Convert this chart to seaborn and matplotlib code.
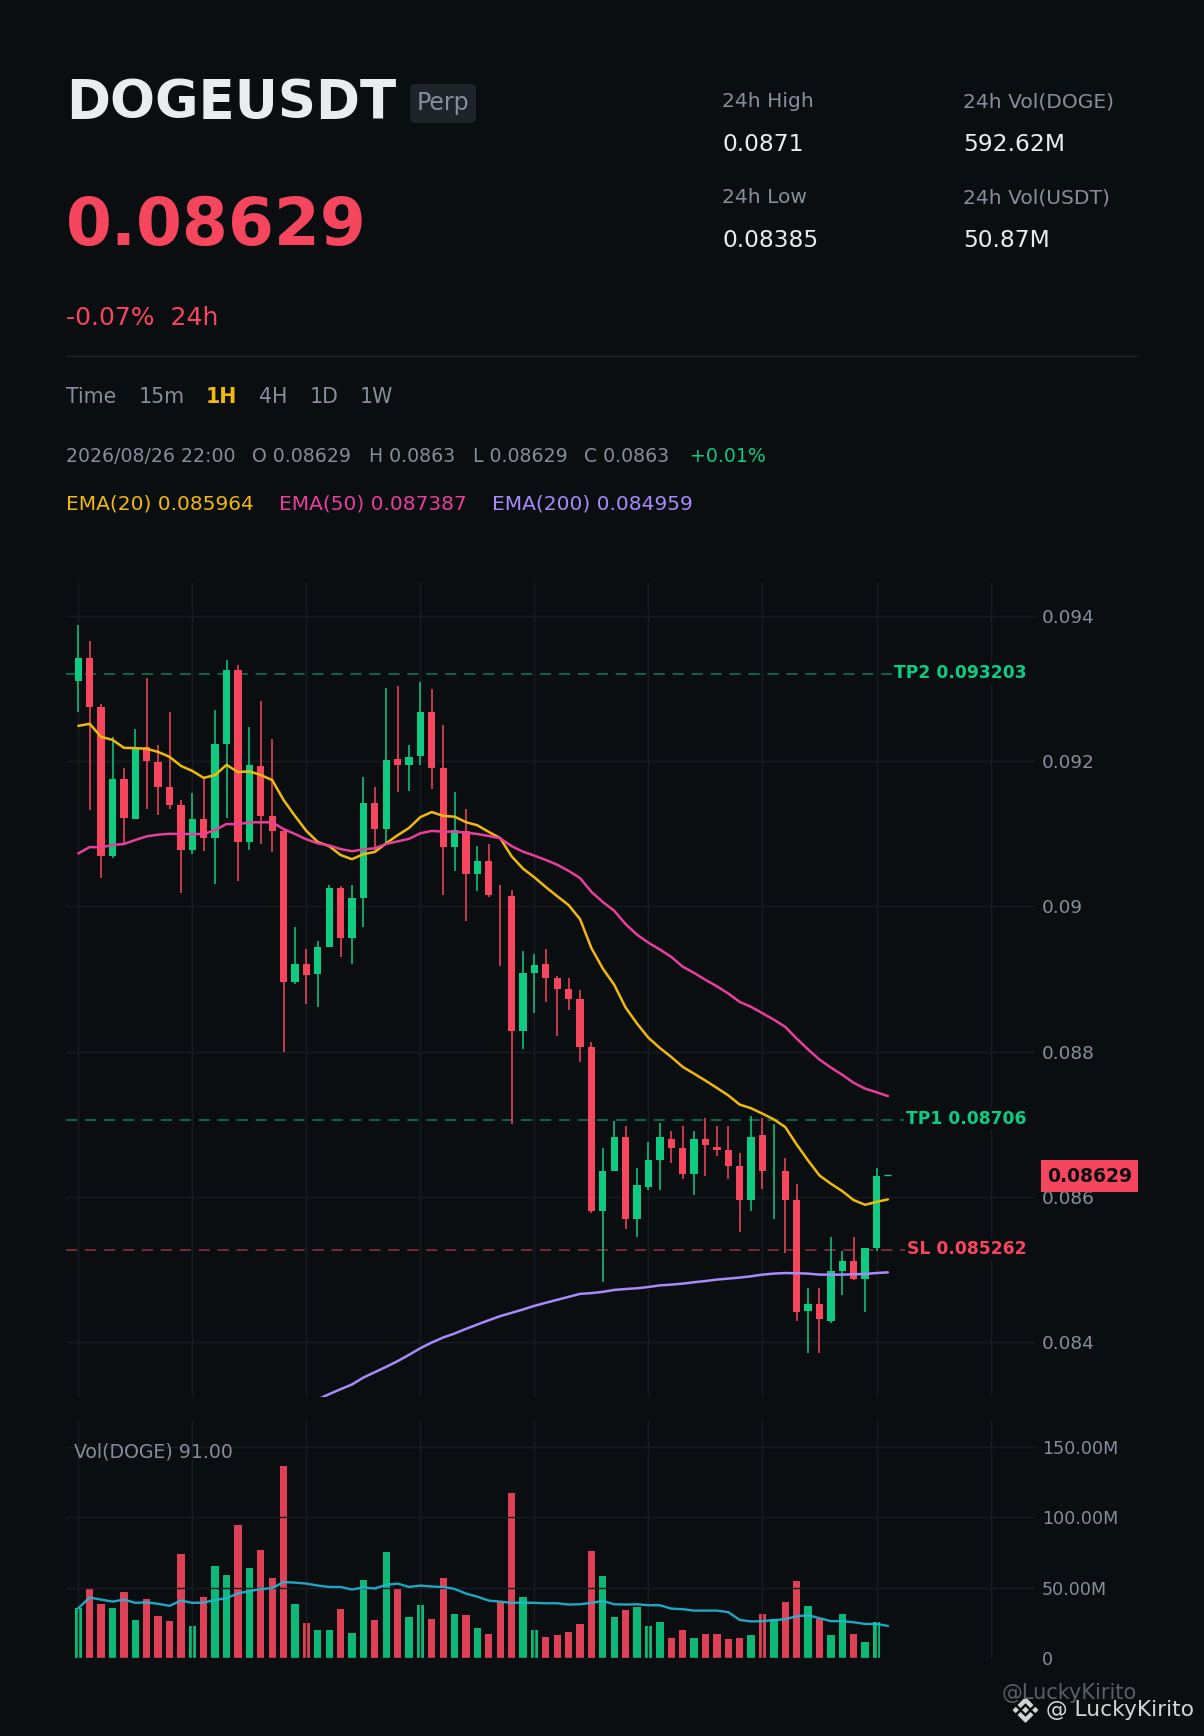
import numpy as np
import pandas as pd
import matplotlib
matplotlib.use("Agg")
import matplotlib.pyplot as plt
import seaborn as sns
from matplotlib.patches import FancyBboxPatch, Polygon, Rectangle
from matplotlib.lines import Line2D
from matplotlib.transforms import IdentityTransform, blended_transform_factory

# ---- data ----
opens = [0.09311,0.09342,0.09275,0.09069,0.09176,0.09120,0.09220,0.09199,0.09165,0.09140,0.09078,0.09120,
         0.09094,0.09224,0.09326,0.09089,0.09194,0.09125,0.09104,0.08896,0.08920,0.08907,0.08944,0.09026,
         0.08956,0.09011,0.09142,0.09107,0.09203,0.09195,0.09207,0.09268,0.09191,0.09082,0.09104,0.09045,
         0.09062,0.09015,0.09014,0.08828,0.08908,0.08920,0.08902,0.08886,0.08872,0.08806,0.08580,0.08635,
         0.08682,0.08569,0.08614,0.08650,0.08680,0.08667,0.08632,0.08679,0.08669,0.08664,0.08642,0.08595,
         0.08685,0.08635,0.08635,0.08595,0.08443,0.08452,0.08429,0.08498,0.08511,0.08487,0.08529,0.08630]
highs = [0.09388,0.09365,0.09279,0.09234,0.09191,0.09245,0.09314,0.09222,0.09268,0.09147,0.09156,0.09177,
         0.09271,0.09340,0.09333,0.09247,0.09283,0.09231,0.09107,0.08971,0.08941,0.08952,0.09029,0.09028,
         0.09029,0.09178,0.09165,0.09301,0.09304,0.09222,0.09309,0.09300,0.09250,0.09158,0.09134,0.09083,
         0.09086,0.09029,0.09022,0.08938,0.08934,0.08941,0.08904,0.08901,0.08885,0.08813,0.08667,0.08705,
         0.08698,0.08639,0.08676,0.08701,0.08690,0.08697,0.08690,0.08708,0.08697,0.08697,0.08660,0.08711,
         0.08709,0.08700,0.08653,0.08617,0.08475,0.08474,0.08544,0.08525,0.08544,0.08530,0.08640,0.08630]
lows = [0.09268,0.09133,0.09039,0.09066,0.09086,0.09120,0.09134,0.09126,0.09134,0.09018,0.09072,0.09076,
        0.09031,0.09122,0.09035,0.09078,0.09086,0.09075,0.08799,0.08893,0.08865,0.08862,0.08944,0.08930,
        0.08920,0.08971,0.09078,0.09085,0.09158,0.09159,0.09195,0.09162,0.09016,0.09049,0.08980,0.09021,
        0.09013,0.08918,0.08700,0.08803,0.08853,0.08869,0.08821,0.08857,0.08785,0.08578,0.08483,0.08635,
        0.08556,0.08545,0.08609,0.08609,0.08646,0.08624,0.08603,0.08629,0.08656,0.08624,0.08551,0.08580,
        0.08611,0.08569,0.08522,0.08429,0.08385,0.08385,0.08426,0.08465,0.08485,0.08442,0.08526,0.08630]
closes = [0.09342,0.09275,0.09069,0.09176,0.09122,0.09220,0.09200,0.09165,0.09140,0.09078,0.09120,0.09094,
          0.09224,0.09325,0.09089,0.09195,0.09125,0.09104,0.08896,0.08920,0.08905,0.08944,0.09025,0.08956,
          0.09011,0.09142,0.09107,0.09202,0.09195,0.09206,0.09268,0.09191,0.09082,0.09105,0.09045,0.09062,
          0.09016,0.090149,0.08828,0.08908,0.08919,0.08902,0.08886,0.08872,0.08807,0.08580,0.08636,0.08683,
          0.08570,0.08616,0.08650,0.08682,0.08667,0.08631,0.08680,0.08671,0.08664,0.08642,0.08595,0.08683,
          0.08635,0.08635,0.08595,0.08442,0.08452,0.08431,0.08498,0.08511,0.08487,0.08529,0.08629,0.08630]
ema20 = [0.092487,0.092515,0.092335,0.092294,0.092184,0.09218,0.09217,0.092128,0.09206,0.091935,0.091866,0.09177,
         0.09181,0.09195,0.09185,0.09186,0.09181,0.09174,0.091466,0.091246,0.09104,0.090887,0.09083,0.090708,
         0.09065,0.09072,0.09075,0.090869,0.09098,0.09108,0.09123,0.0913,0.091246,0.091236,0.09116,0.091117,
         0.091025,0.09094,0.09069,0.09052,0.0904,0.090266,0.09014,0.090018,0.089825,0.089425,0.089144,0.08892,
         0.088606,0.088386,0.08819,0.08805,0.087926,0.08779,0.087696,0.0876,0.0875,0.087397,0.08727,0.08722,
         0.087145,0.087066,0.08696,0.08672,0.0865,0.086294,0.08618,0.086078,0.085954,0.08589,0.08593,0.085964]
ema50 = [0.09073,0.090818,0.090813,0.090846,0.09086,0.090915,0.090965,0.090988,0.091,0.090997,0.090997,0.090997,
         0.091053,0.091135,0.09113,0.091158,0.091158,0.091158,0.091066,0.090997,0.090924,0.090869,0.09084,0.09079,
         0.09076,0.090786,0.0908,0.09086,0.090896,0.09093,0.091007,0.09104,0.09103,0.09103,0.091016,0.090997,
         0.09097,0.090938,0.09083,0.090754,0.090699,0.090639,0.090574,0.09049,0.09039,0.0902,0.09006,0.08994,
         0.089756,0.08961,0.0895,0.089406,0.089305,0.08917,0.089084,0.088988,0.0889,0.0888,0.088685,0.088616,
         0.088528,0.08844,0.08834,0.088179,0.08803,0.08789,0.08778,0.08768,0.08757,0.08749,0.08744,0.087387]
ema200 = [np.nan]*21 + [0.08321,0.083282,0.08335,0.083415,0.08351,0.083584,0.083658,0.083736,0.083823,0.083915,0.083993,
          0.084062,0.084117,0.084181,0.084241,0.0843,0.084356,0.084402,0.084448,0.084498,0.08454,0.084581,0.084622,
          0.084663,0.084673,0.084691,0.084717,0.08473,0.08474,0.084758,0.08478,0.08479,0.084804,0.084823,0.08484,
          0.08486,0.084873,0.084887,0.084905,0.084928,0.084942,0.08495,0.084947,0.084942,0.084928,0.084928,0.084928,
          0.084933,0.084937,0.08495,0.084959]
volumes = [35.4,49.6,38.5,35.6,47,27,42,29.9,26.3,74,22.8,43.4,65.5,59,94.7,64,76.9,57,136.7,38.5,25,20,20,34.9,
           17.8,55.5,27,75.5,49,29,37.7,27.8,57,31.3,30.6,21.4,17,39.9,117.5,43.4,20,15,16.4,18.5,24.2,76.2,
           58.4,29.2,34.2,36.3,22.8,25.6,14.2,20,14.2,17,17,13.5,14.2,16.4,31.3,27.8,39.9,54.8,37,27.8,16.4,31.3,
           17,11.4,25.6,0.00009]
vol_ma = [35.4,43,41.5,40.1,41.5,39.2,39.6,38.5,37.1,40.8,39.2,39.4,41.3,42.5,46,47.5,49.1,49.6,54,53.6,52.9,51.5,
          50.5,50.5,48.7,50.1,49.4,52,52.9,50.5,51.5,50.8,50.5,49.1,45.8,43.6,40.8,40.1,39.2,39.4,39.2,38.9,38.9,38,
          38.2,39.2,40.6,38.2,38,38.2,37.5,37.5,35.1,34.7,33.7,33.7,33.7,32.6,27.1,26,26.2,26.9,27.6,29.7,30.4,28.3,
          26.2,26.2,25.4,24.2,24.2,22.8]
levels = [("TP2 0.093203", 0.093203), ("TP1 0.08706", 0.08706), ("SL 0.085262", 0.085262)]
price_ticks = [0.084, 0.086, 0.088, 0.09, 0.092, 0.094]
price_labels = ["0.084", "0.086", "0.088", "0.09", "0.092", "0.094"]
vol_ticks = [0, 50, 100, 150]
vol_labels = ["0", "50.00M", "100.00M", "150.00M"]
grid_x = [0, 10, 20, 30, 40, 50, 60, 70, 80]

# ---- style ----
BG, GRID, GREY = "#0b0e11", "#171b22", "#848e9c"
GREEN, RED, YELLOW, PINK, PURPLE, CYAN = "#0ecb81", "#f6465d", "#f0b90b", "#e83e9c", "#a78bfa", "#22b8d9"
sns.set_theme(style="dark", rc={"figure.facecolor": BG, "axes.facecolor": BG, "savefig.facecolor": BG,
                                "axes.edgecolor": BG, "grid.color": GRID, "grid.linewidth": 1.0})
plt.rcParams["font.family"] = ["DejaVu Sans"]
W, H = 1204, 1736
fig = plt.figure(figsize=(W / 100, H / 100), dpi=100)
ax = fig.add_axes([66 / W, 1 - 1397 / H, 969 / W, 815 / H])
axv = fig.add_axes([66 / W, 1 - 1658 / H, 969 / W, 238 / H])

df = pd.DataFrame({"i": np.arange(len(opens)), "o": opens, "h": highs, "l": lows, "c": closes,
                   "ema20": ema20, "ema50": ema50, "ema200": ema200, "vol": volumes, "ma": vol_ma})
df["dir"] = np.where(df.c >= df.o, "up", "down")
palette = {"up": GREEN, "down": RED}
colors = df["dir"].map(palette).to_numpy()

# ---- price panel ----
for label, val in levels:
    col = RED if label.startswith("SL") else GREEN
    ax.plot([0, 0.99], [val, val], transform=blended_transform_factory(ax.transAxes, ax.transData),
            color=col, alpha=0.5, lw=1.3, dashes=(6.2, 4.3), zorder=1.5, dash_capstyle="butt")
    ax.annotate(label, xy=(1, val), xycoords=blended_transform_factory(ax.transAxes, ax.transData),
                xytext=(-6, 0.8), textcoords="offset points", ha="right", va="center", color=col,
                fontsize=12.3, fontweight="bold", zorder=6,
                bbox=dict(boxstyle="square,pad=0.12", fc=BG, ec="none"))
has_range = df.h > df.l
ax.vlines(df.i[has_range], df.l[has_range], df.h[has_range], colors=colors[has_range], lw=1.3, alpha=0.85, zorder=2)
ax.bar(df.i, (df.c - df.o).abs(), bottom=df[["o", "c"]].min(axis=1), width=0.64, color=colors, linewidth=0, zorder=3)
ax.hlines(df.c[~has_range], df.i[~has_range] - 0.3, df.i[~has_range] + 0.3, colors=colors[~has_range], lw=1.0, zorder=3)
for col, c in (("ema20", YELLOW), ("ema50", PINK), ("ema200", PURPLE)):
    sns.lineplot(data=df, x="i", y=col, ax=ax, color=c, lw=1.8, errorbar=None, zorder=4)
ax.set_xlim(-1.08, 83.9)
ax.set_ylim(0.0832424, 0.0944683)

# ---- volume panel ----
sns.barplot(data=df, x="i", y="vol", hue="dir", palette=palette, native_scale=True, dodge=False, width=0.64,
            saturation=1, alpha=0.9, linewidth=0, legend=False, ax=axv, zorder=1)
sns.lineplot(data=df, x="i", y="ma", ax=axv, color=CYAN, lw=1.7, alpha=0.9, errorbar=None, zorder=3)
axv.set_xlim(-1.08, 83.9)
axv.set_ylim(0, 169.2)
axv.set_axisbelow(False)

for a, ticks, labs, fs in ((ax, price_ticks, price_labels, 13.3), (axv, vol_ticks, vol_labels, 12.6)):
    a.set_xticks(grid_x)
    a.set_xticklabels([])
    a.set_yticks(ticks)
    a.set_yticklabels(labs)
    a.yaxis.tick_right()
    a.tick_params(axis="both", length=0)
    a.tick_params(axis="y", pad=5, labelsize=fs, labelcolor=GREY)
    a.grid(True, color=GRID, lw=1.0)
    a.set_xlabel("")
    a.set_ylabel("")
    for s in a.spines.values():
        s.set_visible(False)

# ---- text rows ----
def txt(x, y, s, color=GREY, size=14.6, weight="normal", **kw):
    fig.text(x / W, 1 - y / H, s, color=color, fontsize=size, fontweight=weight, va="baseline", ha="left", **kw)

def disp(x, y):
    return (x, H - y)

txt(66, 118, "DOGEUSDT", "#eaecef", 38.2, "bold")
fig.add_artist(FancyBboxPatch(disp(410, 123), 66, 39, boxstyle="round,pad=0,rounding_size=5",
                              fc="#1e2329", ec="none", transform=IdentityTransform()))
txt(417, 110, "Perp", GREY, 17)
txt(66, 245, "0.08629", RED, 47.6, "bold")
txt(66, 325, "-0.07%  24h", RED, 18)
for x, lab1, val1, lab2, val2 in ((722, "24h High", "0.0871", "24h Low", "0.08385"),
                                  (963, "24h Vol(DOGE)", "592.62M", "24h Vol(USDT)", "50.87M")):
    txt(x, 107, lab1)
    txt(x, 151, val1, "#eaecef", 16.8)
    txt(x, 203, lab2)
    txt(x, 247, val2, "#eaecef", 16.8)
fig.add_artist(Line2D([66 / W, 1138 / W], [1 - 356 / H, 1 - 356 / H], color="#1e2329", lw=1.0))
for x, s in ((66, "Time"), (139, "15m"), (259, "4H"), (310, "1D"), (360, "1W")):
    txt(x, 403, s, GREY, 14.8)
txt(206, 403, "1H", YELLOW, 14.8, "bold")
for x, s in ((66, "2026/08/26 22:00"), (252, "O 0.08629"), (369, "H 0.0863"), (473, "L 0.08629"), (584, "C 0.0863")):
    txt(x, 462, s, GREY, 13.6)
txt(690, 462, "+0.01%", GREEN, 13.6)
txt(66, 510, "EMA(20) 0.085964", YELLOW, 14.5)
txt(279, 510, "EMA(50) 0.087387", PINK, 14.5)
txt(492, 510, "EMA(200) 0.084959", PURPLE, 14.5)
txt(74, 1457, "Vol(DOGE) 91.00", GREY, 13.6)

# current price tag
fig.add_artist(Rectangle(disp(1041, 1192), 97, 32, fc=RED, ec="none", transform=IdentityTransform()))
fig.text(1089.5 / W, 1 - 1176 / H, "0.08629", color=BG, fontsize=13.5, fontweight="bold", ha="center", va="center")

# watermarks
txt(1002, 1699, "@LuckyKirito", "#5a5f66", 15)
txt(1046, 1716, "@ LuckyKirito", "#d4d4d4", 15.7)
cx, cy = 1025.5, 1710
shapes = [[(0, -3.4), (3.4, 0), (0, 3.4), (-3.4, 0)],
          [(-9.8, -3.2), (-6.6, 0), (-9.8, 3.2), (-13, 0)],
          [(9.8, -3.2), (13, 0), (9.8, 3.2), (6.6, 0)],
          [(0, -13), (8, -5), (4.9, -1.9), (0, -6.8), (-4.9, -1.9), (-8, -5)],
          [(0, 13), (8, 5), (4.9, 1.9), (0, 6.8), (-4.9, 1.9), (-8, 5)]]
for shp in shapes:
    fig.add_artist(Polygon([disp(cx + a, cy + b) for a, b in shp], closed=True, fc="#d4d4d4", ec="none",
                           transform=IdentityTransform()))

fig.savefig("out.png", dpi=100)
